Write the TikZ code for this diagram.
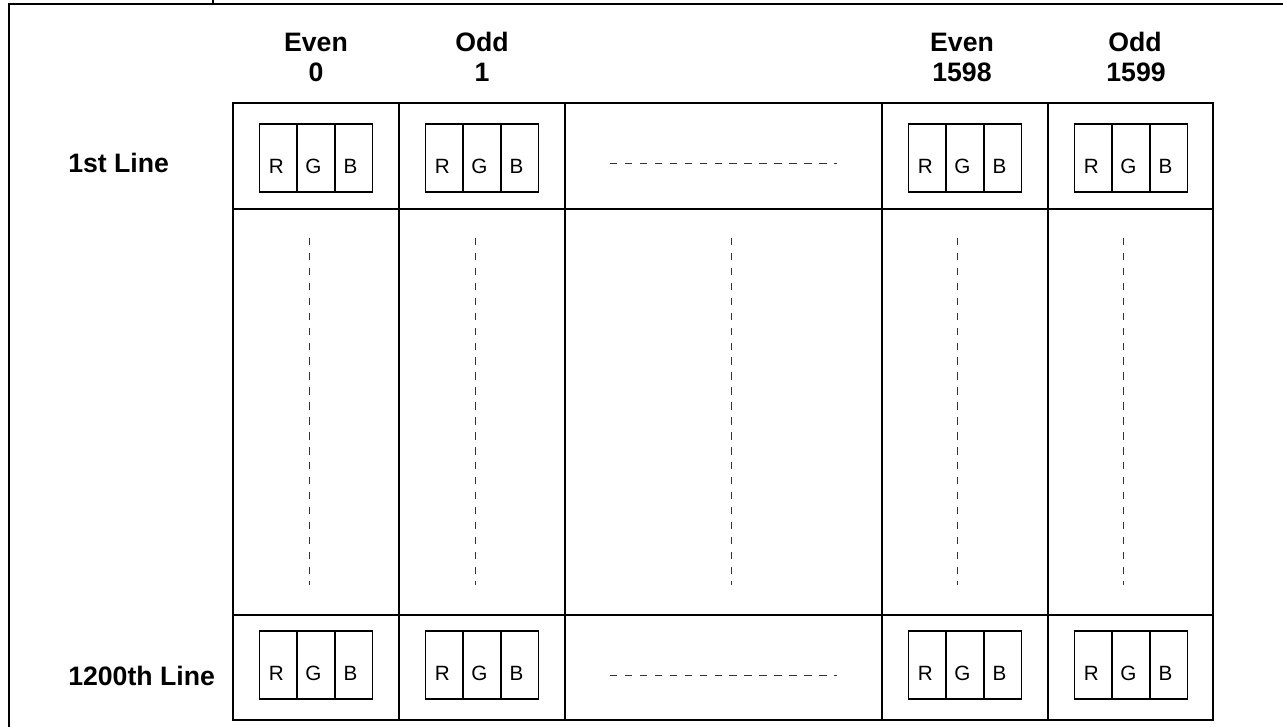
\documentclass[tikz,border=0pt]{standalone}
\usepackage{fontspec}
\setmainfont{Liberation Sans}
\usepackage{tikz}

\tikzset{
  grid line/.style={line width=1.5pt},
  rgb box/.style={line width=1.4pt},
  dash line/.style={line width=0.7pt, black!80, dash pattern=on 5.6pt off 5.6pt},
  head/.style={font=\fontsize{20}{22}\selectfont\bfseries, anchor=base, inner sep=0pt},
  rowlabel/.style={font=\fontsize{20}{22}\selectfont\bfseries, anchor=base west, inner sep=0pt},
  chan/.style={font=\fontsize{15.5}{17}\selectfont, anchor=base, inner sep=0pt}
}

\begin{document}
\begin{tikzpicture}[x=0.75pt, y=-0.75pt]
		\useasboundingbox (0, 0) rectangle (1283, 727);
		% outer frame (cut off at the page edges)
		\draw[grid line] (9, 727) -- (9, 4) -- (1283, 4);
		\draw[grid line] (213, 0) -- (213, 4);
		% table grid
		\coordinate (tl) at (233, 103);
		\coordinate (br) at (1213, 720);
		\draw[grid line] (tl) rectangle (br);
		\draw[grid line] (233, 209) -- (1213, 209);
		\draw[grid line] (233, 615) -- (1213, 615);
		\foreach \x in {399, 565, 882, 1048}
			\draw[grid line] (\x, 103) -- (\x, 720);
		% column headers
		\node[head] (even0) at (316, 52) {Even};
		\node[head] (idx0) at (316, 82) {0};
		\node[head] (odd1) at (482, 52) {Odd};
		\node[head] (idx1) at (482, 82) {1};
		\node[head] (even1598) at (962, 52) {Even};
		\node[head] (idx1598) at (962, 82) {1598};
		\node[head] (odd1599) at (1135, 52) {Odd};
		\node[head] (idx1599) at (1136, 82) {1599};
		% row labels
		\node[rowlabel] (first) at (68, 173) {1st Line};
		\node[rowlabel] (last) at (68, 685) {1200th Line};
		% RGB sub-pixels
		\foreach \c/\n in {316/a, 482/b, 965/c, 1131/d}{
			\foreach \t/\r in {124/top, 631/bot}{
				\draw[rgb box] (\c - 56.5, \t) rectangle (\c + 56.5, \t + 68);
				\draw[rgb box] (\c - 18.8, \t) -- (\c - 18.8, \t + 68);
				\draw[rgb box] (\c + 18.8, \t) -- (\c + 18.8, \t + 68);
				\node[chan] (R\n\r) at (\c - 39.7, \t + 49.5) {R};
				\node[chan] (G\n\r) at (\c - 2.5, \t + 49.5) {G};
				\node[chan] (B\n\r) at (\c + 34.5, \t + 49.5) {B};
			}
		}
		% dots between pixels
		\draw[dash line] (610, 163) -- (837, 163);
		\draw[dash line] (610, 675) -- (837, 675);
		\foreach \x in {309, 475, 731, 957, 1123}
			\draw[dash line] (\x, 238) -- (\x, 585);
	\end{tikzpicture}
\end{document}
